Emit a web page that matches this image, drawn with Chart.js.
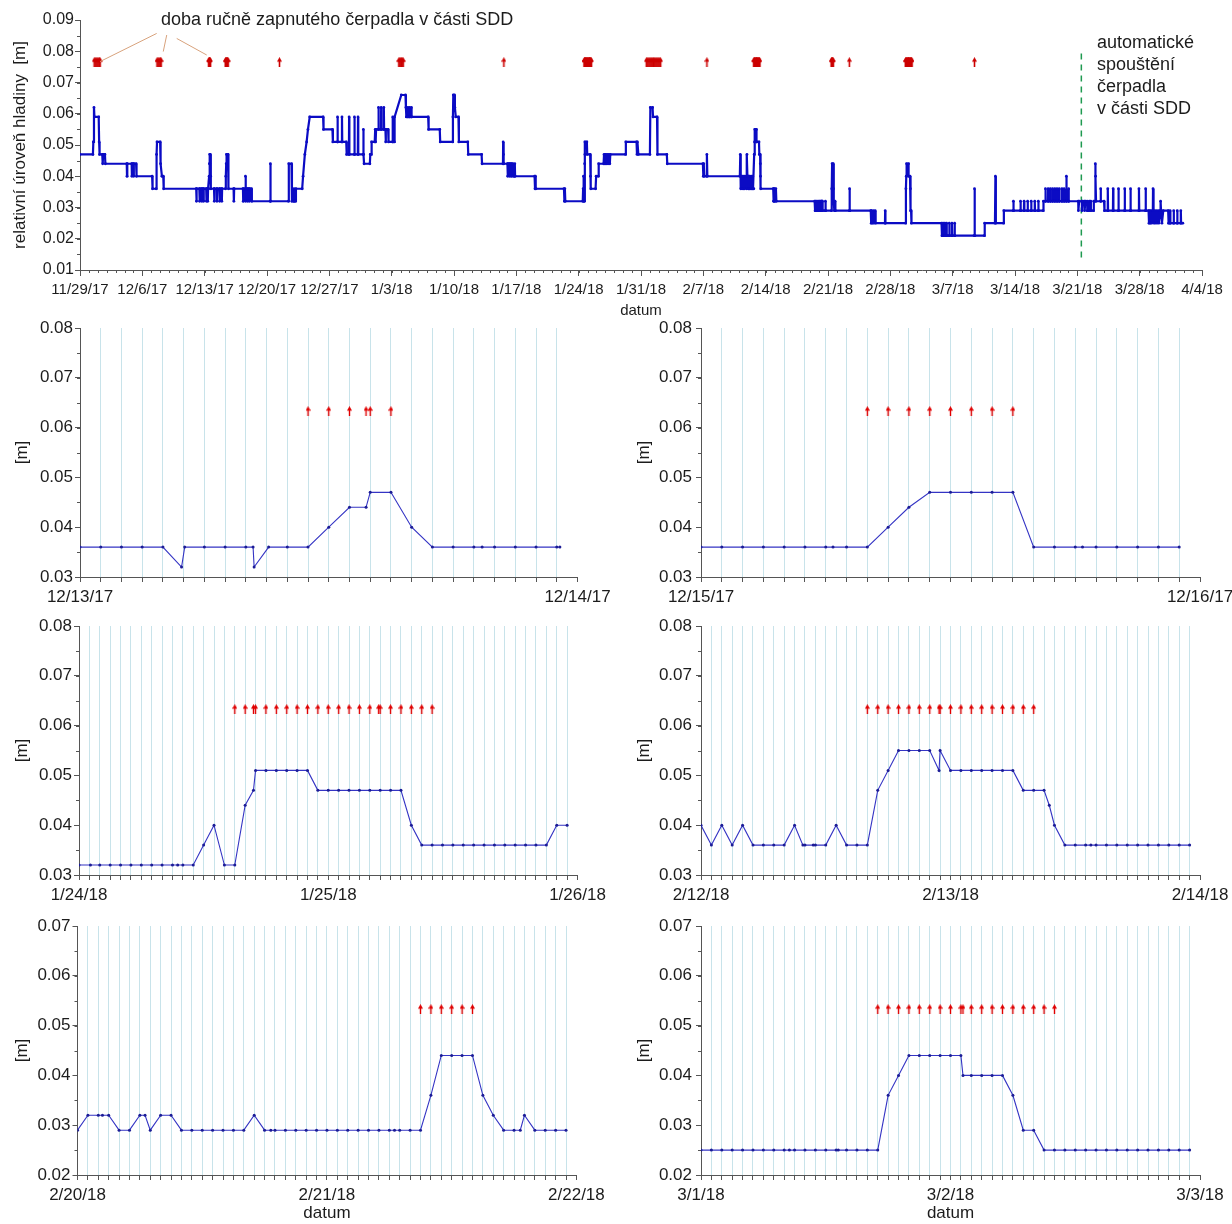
<!DOCTYPE html>
<html lang="cs"><head><meta charset="utf-8">
<script src="https://cdn.jsdelivr.net/npm/chart.js@4.4.1/dist/chart.umd.min.js"></script>
<style>
html,body{margin:0;padding:0;background:#fff;}
body{width:1232px;height:1224px;overflow:hidden;position:relative;}
canvas{position:absolute;}
</style></head><body>
<canvas id="top" style="left:0;top:0" width="1232" height="322"></canvas>
<canvas id="s1" style="left:0;top:300px" width="620" height="315"></canvas>
<canvas id="s2" style="left:616px;top:300px" width="650" height="315"></canvas>
<canvas id="s3" style="left:0;top:598px" width="620" height="312"></canvas>
<canvas id="s4" style="left:616px;top:598px" width="650" height="312"></canvas>
<canvas id="s5" style="left:0;top:898px" width="620" height="326"></canvas>
<canvas id="s6" style="left:616px;top:898px" width="650" height="326"></canvas>
<script>
// ---------------- DATA ----------------
// top chart: [days since 11/29/17, level m]
const topSeries = [
[0,.047],[1.45,.047],[1.5,.051],[1.57,.062],[1.62,.059],[2.1,.059],[2.15,.051],[2.2,.047],[2.5,.047],[2.55,.044],[2.6,.047],[2.8,.047],[2.85,.044],
[5.25,.044],[5.28,.040],[5.31,.044],[5.8,.044],[5.83,.040],[5.86,.044],[6.0,.044],[6.03,.040],[6.06,.044],[6.3,.044],[6.35,.040],
[8.1,.040],[8.15,.036],[8.55,.036],[8.6,.047],[8.65,.051],[9.0,.051],[9.05,.044],[9.2,.040],[9.35,.040],[9.4,.036],
[13.05,.036],[13.08,.032],[13.11,.036],[13.4,.036],[13.43,.032],[13.46,.036],[13.65,.036],[13.68,.032],[13.71,.036],[13.85,.036],[13.88,.032],[13.91,.036],
[14.17,.036],[14.2,.032],[14.21,.036],[14.35,.036],[14.351,.032],[14.38,.036],[14.46,.036],[14.5,.040],[14.54,.044],[14.575,.044],[14.58,.047],[14.625,.047],[14.67,.040],[14.71,.036],
[15.05,.036],[15.08,.032],[15.11,.036],[15.35,.036],[15.38,.032],[15.41,.036],[15.65,.036],[15.68,.032],[15.71,.036],[15.9,.036],[15.93,.032],[15.96,.036],
[16.33,.036],[16.375,.040],[16.42,.044],[16.46,.047],[16.625,.047],[16.67,.036],
[17.25,.036],[17.28,.032],[17.31,.036],
[18.3,.036],[18.33,.032],[18.36,.036],[18.55,.036],[18.58,.040],[18.61,.032],[18.64,.036],[18.8,.036],[18.83,.032],[18.86,.036],[19.0,.036],[19.03,.032],[19.06,.036],[19.25,.036],[19.3,.032],
[21.35,.032],[21.38,.044],[21.41,.032],
[23.4,.032],[23.45,.044],[23.75,.044],[23.8,.032],[24.0,.032],[24.03,.036],[24.06,.032],[24.2,.032],[24.25,.036],
[24.95,.036],[25.05,.040],[25.25,.047],[25.45,.051],[25.6,.055],[25.8,.059],[27.3,.059],[27.35,.055],[28.35,.055],[28.4,.051],
[28.9,.051],[28.92,.059],[28.95,.051],[29.4,.051],[29.42,.059],[29.45,.051],[29.9,.051],[29.95,.047],
[30.2,.047],[30.22,.059],[30.25,.047],[30.8,.047],[30.82,.059],[30.85,.047],[31.2,.047],[31.22,.059],[31.25,.047],[31.8,.047],[31.82,.055],[31.85,.047],[31.9,.044],[32.55,.044],[32.6,.047],[32.7,.047],[32.75,.051],
[33.1,.051],[33.15,.055],[33.2,.051],[33.25,.055],[33.5,.055],[33.52,.062],[33.55,.055],[33.8,.055],[33.82,.062],[33.85,.055],[34.1,.055],[34.12,.062],[34.15,.055],[34.3,.055],[34.33,.051],[34.36,.055],[34.6,.055],[34.65,.051],
[35.1,.051],[35.12,.059],[35.15,.051],[35.3,.051],[35.33,.059],[36.08,.066],[36.55,.066],[36.6,.062],[36.65,.059],[36.8,.059],[36.82,.062],[36.85,.059],[37.0,.059],[37.02,.062],[37.05,.059],[37.2,.059],[37.22,.062],[37.25,.059],
[39.1,.059],[39.15,.055],[40.4,.055],[40.45,.051],[41.85,.051],[41.88,.059],[41.92,.066],[42.05,.066],[42.1,.062],[42.2,.059],[42.5,.059],[42.55,.051],
[43.55,.051],[43.6,.047],[45.1,.047],[45.15,.044],[47.5,.044],[47.52,.051],[47.55,.047],[47.6,.044],
[48.0,.044],[48.03,.040],[48.06,.044],[48.2,.044],[48.23,.040],[48.26,.044],[48.4,.044],[48.43,.040],[48.46,.044],[48.6,.044],[48.65,.040],[48.8,.040],[48.83,.044],[48.86,.040],
[51.05,.040],[51.1,.036],[51.15,.040],[51.2,.036],
[54.35,.036],[54.4,.032],[54.45,.036],[54.5,.032],
[56.46,.032],[56.5,.036],[56.54,.040],[56.58,.032],[56.625,.032],[56.67,.044],[56.7,.047],[56.71,.051],[56.92,.051],[56.96,.047],[57.29,.047],[57.33,.040],[57.375,.036],[57.9,.036],[57.96,.040],
[58.2,.040],[58.25,.044],[58.8,.044],[58.85,.047],[58.9,.044],[58.95,.047],[59.0,.044],[59.05,.047],[59.15,.044],[59.2,.047],[59.3,.044],[59.35,.047],[59.5,.044],[59.55,.047],
[61.25,.047],[61.3,.051],[62.5,.051],[62.55,.047],[62.6,.051],[62.7,.047],
[64.0,.047],[64.05,.062],[64.3,.062],[64.35,.059],[64.8,.059],[64.85,.047],[65.9,.047],[65.95,.044],
[69.95,.044],[70.0,.040],[70.05,.044],[70.1,.040],[70.35,.040],[70.4,.047],[70.45,.040],
[74.1,.040],[74.15,.047],[74.2,.036],[74.3,.040],[74.35,.036],[74.45,.040],[74.5,.036],[74.6,.040],[74.65,.036],[74.8,.040],[74.85,.036],[74.88,.040],[74.9,.047],[74.95,.040],
[75.0,.040],[75.04,.036],[75.08,.040],[75.125,.036],[75.17,.040],[75.21,.036],[75.33,.036],[75.375,.040],[75.41,.036],[75.5,.036],[75.54,.040],[75.58,.036],[75.67,.036],[75.71,.047],[75.75,.051],[75.79,.055],[75.92,.055],[75.955,.051],[75.96,.055],[76.0,.051],[76.25,.051],[76.29,.047],[76.375,.047],[76.4,.044],[76.42,.040],[76.46,.036],
[77.85,.036],[77.88,.032],[77.91,.036],[77.95,.032],[78.0,.036],[78.05,.032],[78.15,.036],[78.2,.032],
[82.5,.032],[82.55,.029],[82.6,.032],[82.7,.029],[82.75,.032],[82.85,.029],[82.9,.032],
[83.0,.029],[83.04,.032],[83.125,.032],[83.17,.029],[83.21,.029],[83.25,.032],[83.27,.032],[83.29,.029],[83.33,.032],[83.375,.032],[83.42,.029],[83.67,.029],[83.71,.032],[83.75,.029],[84.375,.029],[84.42,.036],[84.46,.044],[84.58,.044],[84.625,.036],[84.67,.032],[84.71,.029],[84.775,.029],[84.79,.032],[84.83,.029],
[86.4,.029],[86.42,.036],[86.45,.029],
[88.8,.029],[88.85,.025],[88.9,.029],[89.0,.025],[89.1,.029],[89.15,.025],[89.3,.029],[89.35,.025],
[90.4,.025],[90.42,.029],[90.45,.025],
[92.71,.025],[92.75,.036],[92.79,.040],[92.83,.044],[93.04,.044],[93.05,.040],[93.21,.040],[93.25,.036],[93.29,.029],[93.33,.029],[93.375,.025],
[96.75,.025],[96.8,.021],[96.9,.021],[96.92,.025],[96.95,.021],[97.1,.021],[97.12,.025],[97.15,.021],[97.3,.021],[97.32,.025],[97.35,.021],[97.6,.021],[97.62,.025],[97.65,.021],[97.9,.021],[97.92,.025],[97.95,.021],[98.2,.021],[98.22,.025],[98.25,.021],
[100.4,.021],[100.45,.036],[100.5,.021],[101.55,.021],[101.6,.025],
[102.75,.025],[102.8,.040],[102.85,.025],[103.7,.025],[103.75,.029],
[104.8,.029],[104.82,.032],[104.85,.029],[105.6,.029],[105.62,.032],[105.65,.029],[106.0,.029],[106.02,.032],[106.05,.029],[106.4,.029],[106.42,.032],[106.45,.029],[106.8,.029],[106.82,.032],[106.85,.029],[107.2,.029],[107.22,.032],[107.25,.029],[107.6,.029],[107.62,.032],[107.65,.029],[108.15,.029],[108.2,.032],
[108.4,.032],[108.42,.036],[108.45,.032],[108.7,.032],[108.72,.036],[108.75,.032],[108.95,.032],[108.97,.036],[109.0,.032],[109.2,.032],[109.22,.036],[109.25,.032],[109.45,.032],[109.47,.036],[109.5,.032],[109.7,.032],[109.72,.036],[109.75,.032],[109.95,.032],[109.97,.036],[110.0,.032],[110.25,.032],[110.27,.036],[110.3,.032],[110.5,.032],[110.52,.036],[110.55,.032],[110.75,.032],[110.77,.040],[110.8,.032],[111.0,.032],[111.02,.036],[111.05,.032],
[112.1,.032],[112.12,.029],[112.2,.032],[112.5,.032],[112.52,.029],[112.6,.032],[112.8,.032],[112.82,.029],[112.9,.032],[113.1,.032],[113.12,.029],[113.3,.029],[113.35,.032],[113.5,.032],[113.52,.029],[113.8,.029],[113.85,.032],
[114.0,.032],[114.02,.044],[114.05,.040],[114.1,.032],[114.6,.032],[114.62,.036],[114.65,.032],[115.0,.032],[115.05,.029],[115.4,.029],[115.42,.036],[115.45,.029],[116.0,.029],[116.02,.036],[116.05,.029],[116.6,.029],[116.62,.036],[116.65,.029],[117.3,.029],[117.32,.036],[117.35,.029],[117.95,.029],[117.97,.036],[118.0,.029],[118.9,.029],[118.92,.036],[118.95,.029],[119.65,.029],[119.67,.036],[119.7,.029],
[120.0,.029],[120.05,.025],[120.15,.029],[120.2,.025],[120.3,.029],[120.35,.025],[120.48,.029],[120.5,.036],[120.52,.029],[120.6,.025],[120.7,.029],[120.75,.025],[120.9,.029],[120.95,.025],[121.1,.029],[121.15,.025],[121.3,.029],[121.35,.032],[121.4,.029],[121.5,.025],[121.65,.029],
[122.2,.029],[122.25,.025],[122.4,.025],[122.42,.029],[122.45,.025],[122.8,.025],[122.82,.029],[122.85,.025],[123.2,.025],[123.22,.029],[123.25,.025],[123.6,.025],[123.62,.029],[123.65,.025],[123.85,.025]
];
// manual pump switch-on times (days since 11/29/17)
const topArrows = [
1.6,1.7,1.8,1.9,2.0,2.1,2.2,2.25,
8.65,8.75,8.85,8.95,9.05,9.1,
14.46,14.5,14.54,14.575,14.58,14.625,
16.33,16.375,16.42,16.46,16.5,16.54,16.58,16.625,
22.4,
35.8,35.9,36.0,36.1,36.2,36.3,
47.6,
56.625,56.67,56.7,56.71,56.75,56.79,56.83,56.875,56.92,56.96,57.0,57.04,57.08,57.125,57.17,57.2,57.21,57.25,57.29,57.33,57.375,57.42,
63.6,63.7,63.8,63.9,64.0,64.1,64.2,64.3,64.4,64.5,64.6,64.7,64.8,64.9,65.0,65.1,65.2,
70.4,
75.67,75.71,75.75,75.79,75.83,75.875,75.92,75.955,75.96,76.0,76.04,76.08,76.125,76.17,76.21,76.25,76.29,76.33,
84.375,84.42,84.46,84.5,84.54,84.58,
86.4,
92.71,92.75,92.79,92.83,92.875,92.92,92.96,93.0,93.04,93.05,93.08,93.125,93.17,93.21,93.25,93.29,93.33,93.375,93.42,
100.45
];
const autoStartDay = 112.45;
const topTickLabels = ['11/29/17','12/6/17','12/13/17','12/20/17','12/27/17','1/3/18','1/10/18','1/17/18','1/24/18','1/31/18','2/7/18','2/14/18','2/21/18','2/28/18','3/7/18','3/14/18','3/21/18','3/28/18','4/4/18'];

// detail charts: [hour from first date, level m]
const sub1 = [[0,.036],[1,.036],[2,.036],[3,.036],[4,.036],[4.9,.032],[5.05,.036],[6,.036],[7,.036],[8,.036],[8.35,.036],[8.4,.032],[9.1,.036],[10,.036],[11,.036],[12,.040],[13,.044],[13.8,.044],[14,.047],[15,.047],[16,.040],[17,.036],[18,.036],[19,.036],[19.4,.036],[20,.036],[21,.036],[22,.036],[23,.036],[23.15,.036]];
const sub1Arrows = [11,12,13,13.8,14,15];
const sub1Days = ['12/13/17','12/14/17'];

const sub2 = [[0,.036],[1,.036],[2,.036],[3,.036],[4,.036],[5,.036],[6,.036],[6.35,.036],[7,.036],[8,.036],[9,.040],[10,.044],[11,.047],[12,.047],[13,.047],[14,.047],[15,.047],[16,.036],[17,.036],[18,.036],[18.35,.036],[19,.036],[20,.036],[21,.036],[22,.036],[23,.036]];
const sub2Arrows = [8,9,10,11,12,13,14,15];
const sub2Days = ['12/15/17','12/16/17'];

const sub3 = [[0,.032],[1.1,.032],[2,.032],[3,.032],[4,.032],[5,.032],[6,.032],[7,.032],[8,.032],[9,.032],[9.5,.032],[10,.032],[11,.032],[12,.036],[13,.040],[14,.032],[15,.032],[16,.044],[16.8,.047],[17,.051],[18,.051],[19,.051],[20,.051],[21,.051],[22,.051],[23,.047],[24,.047],[25,.047],[26,.047],[27,.047],[28,.047],[29,.047],[30,.047],[31,.047],[32,.040],[33,.036],[34,.036],[35,.036],[36,.036],[37,.036],[38,.036],[39,.036],[40,.036],[41,.036],[42,.036],[43,.036],[44,.036],[45,.036],[46,.040],[47,.040]];
const sub3Arrows = [15,16,16.8,17,18,19,20,21,22,23,24,25,26,27,28,28.85,29,30,31,32,33,34];
const sub3Days = ['1/24/18','1/25/18','1/26/18'];

const sub4 = [[0,.040],[1,.036],[2,.040],[3,.036],[4,.040],[5,.036],[6,.036],[7,.036],[8,.036],[9,.040],[9.8,.036],[10,.036],[10.8,.036],[11,.036],[12,.036],[13,.040],[14,.036],[15,.036],[16,.036],[17,.047],[18,.051],[19,.055],[20,.055],[21,.055],[22,.055],[22.9,.051],[23,.055],[24,.051],[25,.051],[26,.051],[27,.051],[28,.051],[29,.051],[30,.051],[31,.047],[32,.047],[33,.047],[33.5,.044],[34,.040],[35,.036],[36,.036],[37,.036],[37.5,.036],[38,.036],[39,.036],[40,.036],[41,.036],[42,.036],[43,.036],[44,.036],[45,.036],[46,.036],[47,.036]];
const sub4Arrows = [16,17,18,19,20,21,22,22.9,23,24,25,26,27,28,29,30,31,32];
const sub4Days = ['2/12/18','2/13/18','2/14/18'];

const sub5 = [[0,.029],[1,.032],[2,.032],[2.4,.032],[3,.032],[4,.029],[5,.029],[6,.032],[6.5,.032],[7,.029],[8,.032],[9,.032],[10,.029],[11,.029],[12,.029],[13,.029],[14,.029],[15,.029],[16,.029],[17,.032],[18,.029],[18.6,.029],[19,.029],[20,.029],[21,.029],[22,.029],[23,.029],[24,.029],[25,.029],[26,.029],[27,.029],[28,.029],[29,.029],[30,.029],[30.5,.029],[31,.029],[32,.029],[33,.029],[34,.036],[35,.044],[36,.044],[37,.044],[38,.044],[39,.036],[40,.032],[41,.029],[42,.029],[42.6,.029],[43,.032],[44,.029],[45,.029],[46,.029],[47,.029]];
const sub5Arrows = [33,34,35,36,37,38];
const sub5Days = ['2/20/18','2/21/18','2/22/18'];

const sub6 = [[0,.025],[1,.025],[2,.025],[3,.025],[4,.025],[5,.025],[6,.025],[7,.025],[8,.025],[8.5,.025],[9,.025],[10,.025],[11,.025],[12,.025],[13,.025],[13.2,.025],[14,.025],[15,.025],[16,.025],[17,.025],[18,.036],[19,.040],[20,.044],[21,.044],[22,.044],[23,.044],[24,.044],[25,.044],[25.2,.040],[26,.040],[27,.040],[28,.040],[29,.040],[30,.036],[31,.029],[32,.029],[33,.025],[34,.025],[35,.025],[36,.025],[37,.025],[38,.025],[39,.025],[40,.025],[41,.025],[42,.025],[43,.025],[44,.025],[45,.025],[46,.025],[47,.025]];
const sub6Arrows = [17,18,19,20,21,22,23,24,25,25.2,26,27,28,29,30,31,32,33,34];
const sub6Days = ['3/1/18','3/2/18','3/3/18'];

const pumpNote = 'doba ručně zapnutého čerpadla v části SDD';
const autoNote = ['automatické','spouštění','čerpadla','v části SDD'];

// ---------------- RENDER ----------------
const FONT = "'Liberation Sans', Arial, Helvetica, sans-serif";
Chart.defaults.font.family = FONT;
Chart.defaults.color = '#1c1c1c';
const AXIS = '#555';

function makeArrow(color, w, h, shaft) {
  const c = document.createElement('canvas'); c.width = w; c.height = h;
  const g = c.getContext('2d'); g.fillStyle = color;
  g.beginPath(); g.moveTo(w/2, 0); g.lineTo(w, 4.5); g.lineTo(0, 4.5); g.closePath(); g.fill();
  g.fillRect(w/2 - shaft/2, 4, shaft, h - 4);
  return c;
}
const arrowTop = makeArrow('#cc0000', 5, 10, 1.6);
const arrowSub = makeArrow('#e00000', 5, 10, 1.4);

const minorTicks = {
  id: 'minorTicks',
  afterDraw(chart, args, o) {
    const ctx = chart.ctx; ctx.save(); ctx.strokeStyle = AXIS; ctx.lineWidth = 1;
    if (o.x) { const s = chart.scales.x; const n = Math.round((s.max - s.min) / o.x.step);
      for (let i = 0; i <= n; i++) { const p = Math.round(s.getPixelForValue(s.min + i * o.x.step)) + 0.5;
        ctx.beginPath(); ctx.moveTo(p, s.top); ctx.lineTo(p, s.top + o.x.len); ctx.stroke(); } }
    if (o.y) { const s = chart.scales.y; const n = Math.round((s.max - s.min) / o.y.step);
      for (let i = 0; i <= n; i++) { const p = Math.round(s.getPixelForValue(s.min + i * o.y.step)) + 0.5;
        ctx.beginPath(); ctx.moveTo(s.right, p); ctx.lineTo(s.right - o.y.len, p); ctx.stroke(); } }
    ctx.restore();
  }
};

const topNotes = {
  id: 'topNotes',
  afterDraw(chart) {
    const {ctx, scales: {x, y}} = chart;
    ctx.save();
    ctx.strokeStyle = '#d8a27c'; ctx.lineWidth = 1;
    [[8.61,0.0857,2.25,0.0767],[9.74,0.0852,9.35,0.0799],[10.86,0.0841,14.23,0.0788]].forEach(([a,b,c,d]) => {
      ctx.beginPath(); ctx.moveTo(x.getPixelForValue(a), y.getPixelForValue(b));
      ctx.lineTo(x.getPixelForValue(c), y.getPixelForValue(d)); ctx.stroke();
    });
    ctx.fillStyle = '#1c1c1c'; ctx.font = '18px ' + FONT; ctx.textAlign = 'left'; ctx.textBaseline = 'middle';
    ctx.fillText(pumpNote, x.getPixelForValue(9.1), y.getPixelForValue(0.0899));
    autoNote.forEach((t, i) => ctx.fillText(t, x.getPixelForValue(114.2), y.getPixelForValue(0.0825) + i * 22));
    ctx.restore();
  }
};

new Chart(document.getElementById('top'), {
  type: 'scatter',
  data: { datasets: [
    { data: topSeries.map(([x, y]) => ({x, y})), showLine: true, borderColor: '#0b0bc4', borderWidth: 2.2,
      pointRadius: 1.4, pointBackgroundColor: '#0b0bc4', pointBorderWidth: 0, order: 2 },
    { data: [{x: autoStartDay, y: 0.0793}, {x: autoStartDay, y: 0.0138}], showLine: true, borderColor: '#1f9a50',
      borderWidth: 1.5, borderDash: [6, 5], pointRadius: 0, order: 3 },
    { data: topArrows.map(d => ({x: d, y: 0.0765})), pointStyle: arrowTop, pointRadius: 3, order: 1 }
  ]},
  options: {
    responsive: false, animation: false, events: [],
    layout: { padding: { top: 20, right: 30, bottom: 0, left: 0 } },
    plugins: { legend: { display: false }, tooltip: { enabled: false },
      minorTicks: { x: { step: 1, len: 3 }, y: { step: 0.005, len: 3 } } },
    scales: {
      x: { type: 'linear', min: 0, max: 126, afterFit: s => { s.height = 52; },
        ticks: { stepSize: 7, autoSkip: false, maxRotation: 0, font: { size: 15 }, padding: 5,
          callback: v => topTickLabels[Math.round(v / 7)] },
        grid: { drawOnChartArea: false, tickLength: 6, tickColor: AXIS },
        border: { color: AXIS },
        title: { display: true, text: 'datum', font: { size: 15 }, padding: { top: 0, bottom: 2 } } },
      y: { min: 0.01, max: 0.09, afterFit: s => { s.width = 80; },
        ticks: { stepSize: 0.01, font: { size: 16 }, padding: 1, callback: v => Number(v).toFixed(2) },
        grid: { drawOnChartArea: false, tickLength: 5, tickColor: AXIS },
        border: { color: AXIS },
        title: { display: true, text: 'relativní úroveň hladiny  [m]', font: { size: 17 }, padding: { top: 10, bottom: 0 } } }
    }
  },
  plugins: [minorTicks, topNotes]
});

function makeSub(id, series, arrows, dayLabels, yMin, arrowLevel, g) {
  const spanH = (dayLabels.length - 1) * 24;
  new Chart(document.getElementById(id), {
    type: 'scatter',
    data: { datasets: [
      { data: series.map(([x, y]) => ({x, y})), showLine: true, borderColor: '#3434c4', borderWidth: 1.1,
        pointRadius: 1.5, pointBackgroundColor: '#1c1c96', pointBorderWidth: 0, order: 2 },
      { data: arrows.map(h => ({x: h, y: arrowLevel})), pointStyle: arrowSub, pointRadius: 3, order: 1 }
    ]},
    options: {
      responsive: false, animation: false, events: [],
      layout: { padding: { top: g.padTop, right: g.padRight, bottom: 0, left: 0 } },
      plugins: { legend: { display: false }, tooltip: { enabled: false },
        minorTicks: { y: { step: 0.005, len: 3 } } },
      scales: {
        x: { type: 'linear', min: 0, max: spanH, afterFit: s => { s.height = g.xH; },
          ticks: { stepSize: 1, autoSkip: false, maxRotation: 0, font: { size: 17 }, padding: 5,
            callback: v => (v % 24 === 0 ? dayLabels[v / 24] : '') },
          grid: { drawOnChartArea: true, tickLength: 5, tickColor: AXIS,
            color: c => (c.tick && c.tick.value > 0 && c.tick.value < spanH) ? '#c8e3ea' : 'rgba(0,0,0,0)' },
          border: { color: AXIS },
          title: { display: !!g.datum, text: 'datum', font: { size: 17 }, padding: { top: 0, bottom: 0 } } },
        y: { min: yMin, max: yMin + 0.05, afterFit: s => { s.width = g.yW; },
          ticks: { stepSize: 0.01, font: { size: 17 }, padding: g.tp, callback: v => Number(v).toFixed(2) },
          grid: { drawOnChartArea: false, tickLength: 5, tickColor: AXIS },
          border: { color: AXIS },
          title: { display: true, text: '[m]', font: { size: 17 }, padding: { top: g.tPad, bottom: 0 } } }
      }
    },
    plugins: [minorTicks]
  });
}

const L = { yW: 80, padRight: 42.5, tp: 2, tPad: 12 };
const R = { yW: 85, padRight: 66, tp: 4, tPad: 18 };
makeSub('s1', sub1, sub1Arrows, sub1Days, 0.03, 0.0633, Object.assign({}, L, { padTop: 28, xH: 38 }));
makeSub('s2', sub2, sub2Arrows, sub2Days, 0.03, 0.0633, Object.assign({}, R, { padTop: 28, xH: 38 }));
makeSub('s3', sub3, sub3Arrows, sub3Days, 0.03, 0.0633, Object.assign({}, L, { yW: 79, padTop: 28, xH: 35 }));
makeSub('s4', sub4, sub4Arrows, sub4Days, 0.03, 0.0633, Object.assign({}, R, { padTop: 28, xH: 35 }));
makeSub('s5', sub5, sub5Arrows, sub5Days, 0.02, 0.0533, Object.assign({}, L, { yW: 77.5, padRight: 43.6, padTop: 28, xH: 49, datum: true }));
makeSub('s6', sub6, sub6Arrows, sub6Days, 0.02, 0.0533, Object.assign({}, R, { padTop: 28, xH: 49, datum: true }));
</script>
</body></html>
